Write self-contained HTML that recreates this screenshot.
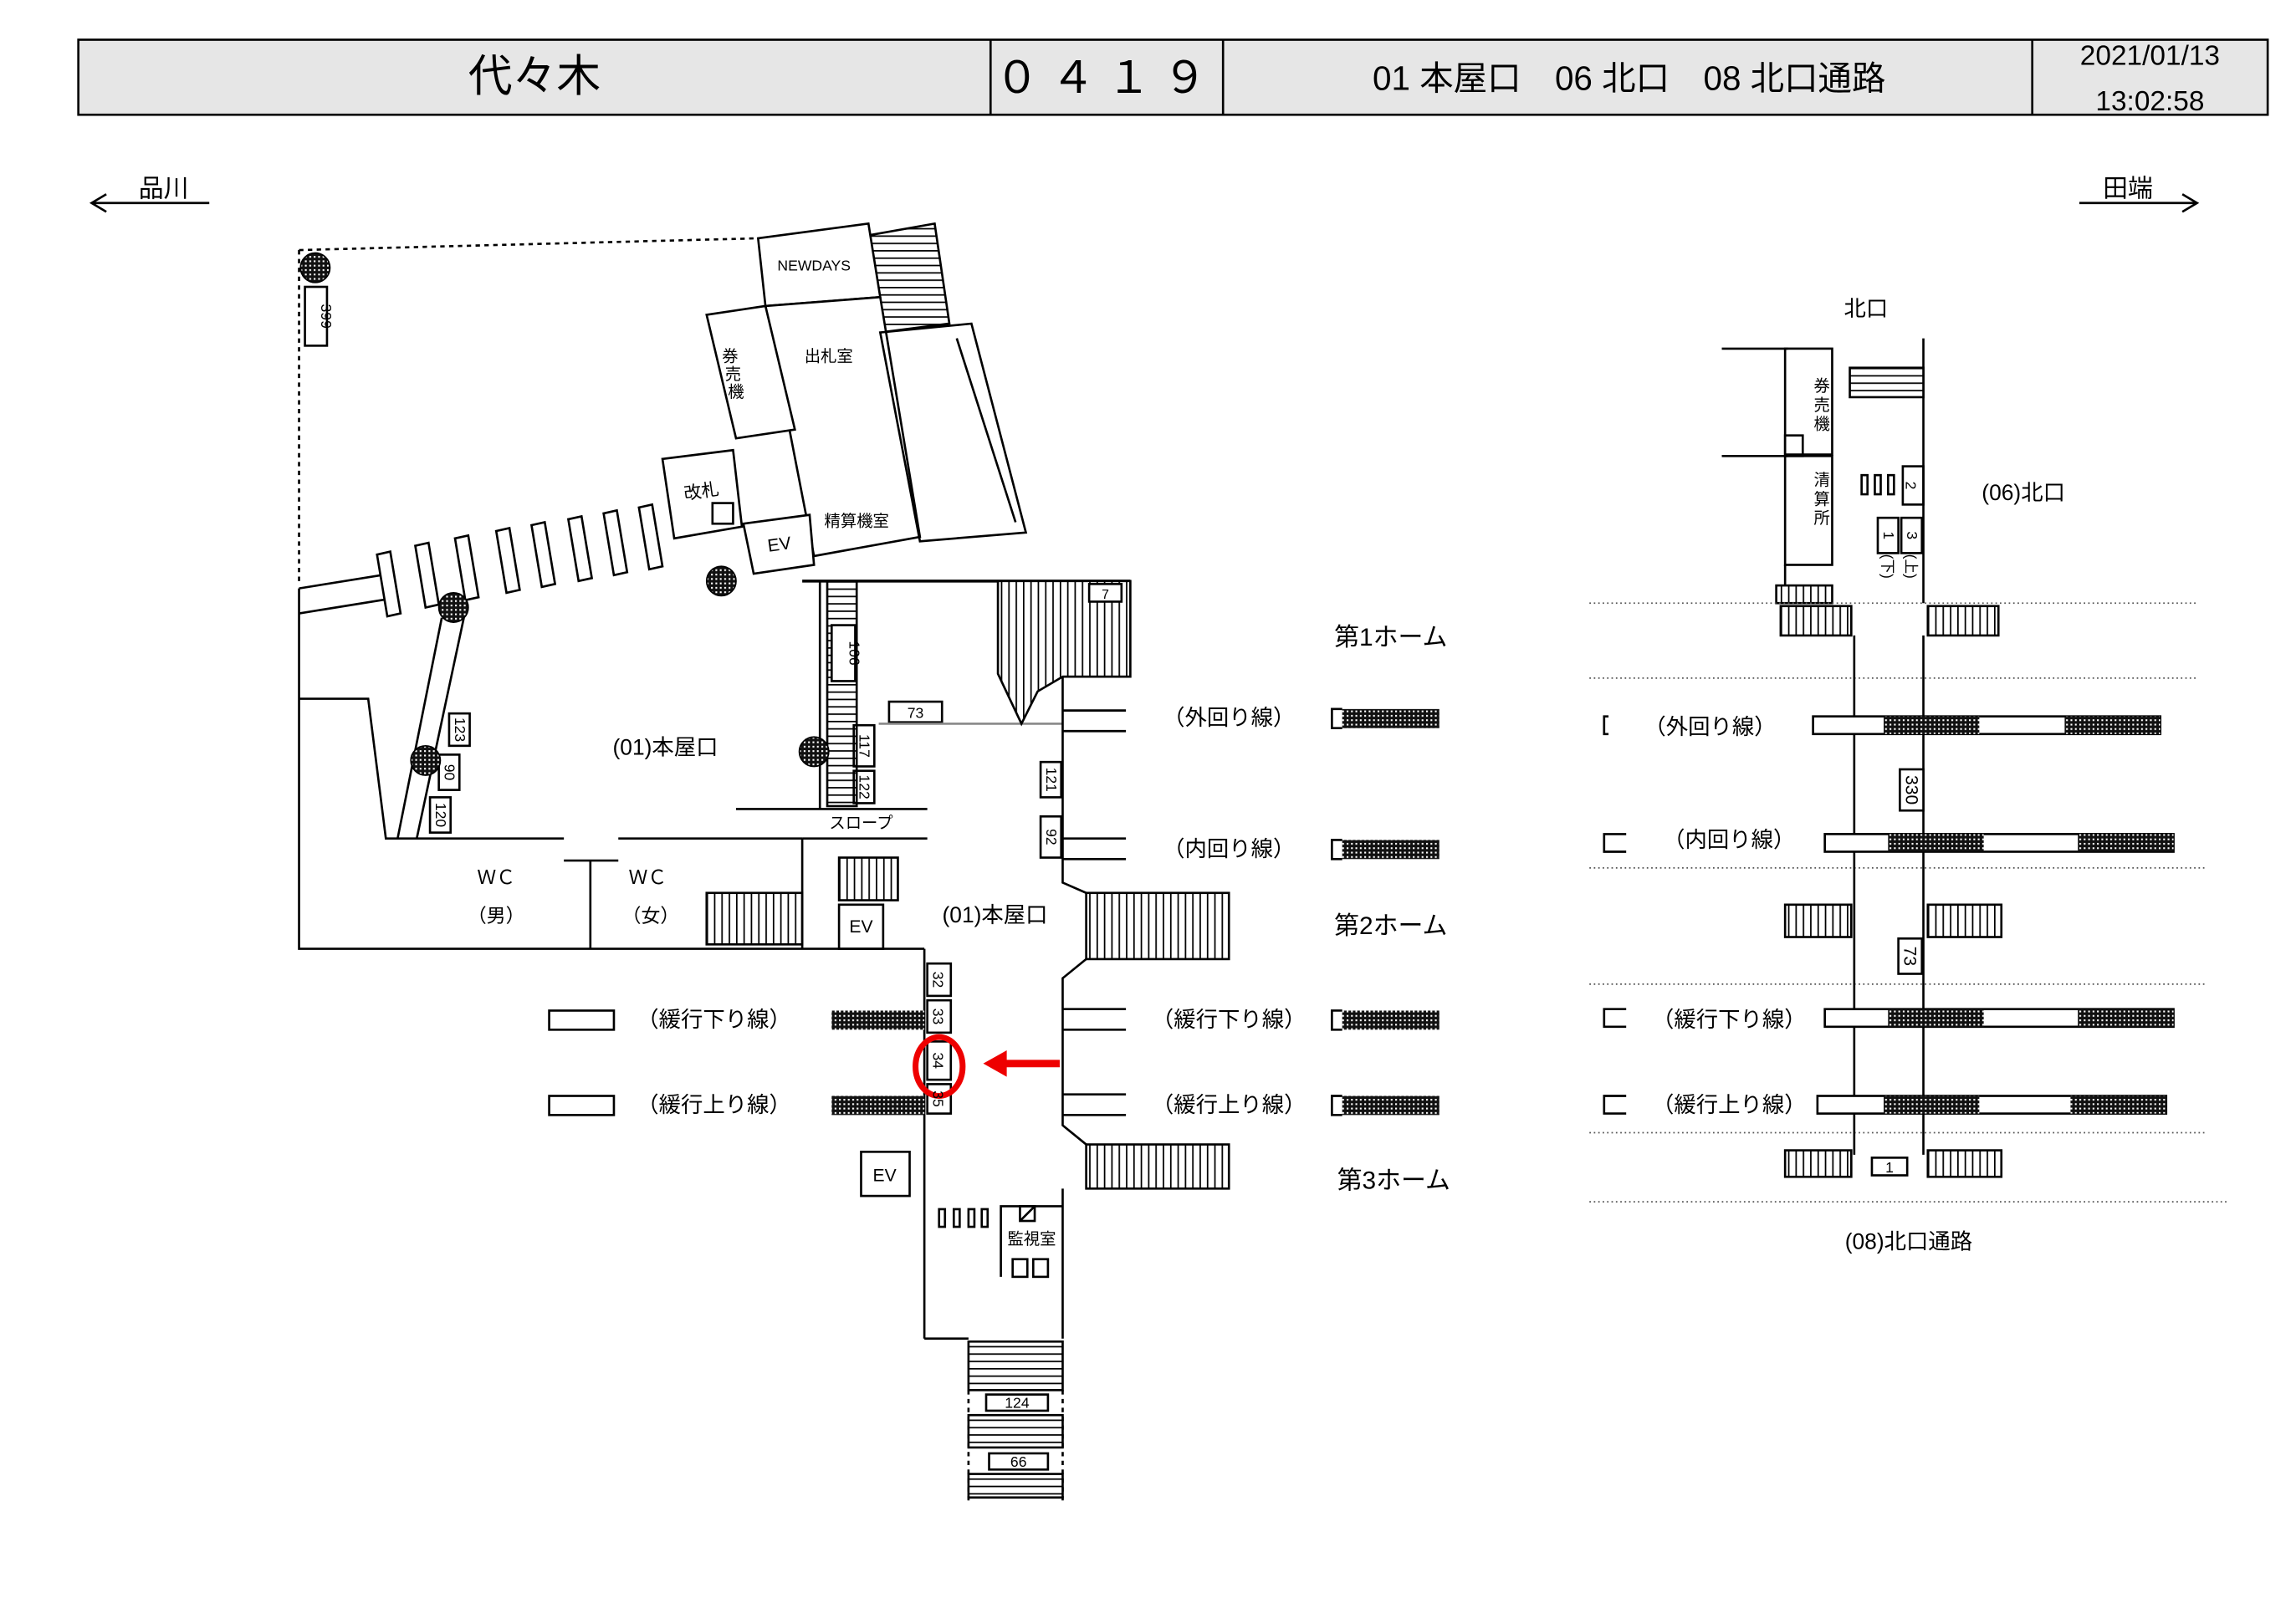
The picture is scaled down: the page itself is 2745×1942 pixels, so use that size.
<!DOCTYPE html>
<html><head><meta charset="utf-8"><style>
html,body{margin:0;padding:0;background:#fff}
svg{display:block}
text{font-family:"Liberation Sans","Noto Sans CJK JP",sans-serif;fill:#000}
</style></head><body>
<svg width="2745" height="1942" viewBox="0 0 1560 1104" xmlns="http://www.w3.org/2000/svg">
<defs>
<pattern id="h" width="3" height="3" patternUnits="userSpaceOnUse"><rect width="3" height="3" fill="#111"/><rect width="1.2" height="1.2" fill="#fff"/></pattern>
<pattern id="sv" width="5" height="5" patternUnits="userSpaceOnUse"><rect width="5" height="5" fill="#fff"/><rect width="1" height="5" fill="#000"/></pattern>
<pattern id="sh" width="5" height="5" patternUnits="userSpaceOnUse"><rect width="5" height="5" fill="#fff"/><rect width="5" height="1" fill="#000"/></pattern>
</defs>
<g fill="none" stroke="#000" stroke-width="1.5">
<!-- header -->
<rect x="53" y="27" width="1488" height="51" fill="#e6e6e6"/>
<line x1="673" y1="27" x2="673" y2="78"/><line x1="831" y1="27" x2="831" y2="78"/><line x1="1381" y1="27" x2="1381" y2="78"/>
<!-- direction arrows -->
<line x1="62" y1="138" x2="142" y2="138"/><polyline points="72,132 62,138 72,144"/>
<line x1="1413" y1="138" x2="1493" y2="138"/><polyline points="1483,132 1493,138 1483,144"/>
<!-- left plan -->
<line x1="203" y1="170" x2="515" y2="162" stroke-dasharray="3,3"/>
<line x1="203" y1="170" x2="203" y2="395" stroke-dasharray="3,3"/>
<polygon points="590,160 635,152 645,220 598,226" fill="url(#sh)"/>
<polygon points="515,162 590,152 598,202 520,208" fill="#fff"/>
<polygon points="520,208 598,202 625,365 553,378" fill="#fff"/>
<polygon points="598,226 660,220 697,362 625,368"/>
<line x1="650" y1="230" x2="690" y2="355"/>
<polygon points="480,214 520,208 540,292 500,298" fill="#fff"/>
<polygon points="450,312 498,306 504,358 458,366" fill="#fff"/>
<polygon points="505,356 550,350 553,384 512,390" fill="#fff"/>
<rect x="484" y="342" width="14" height="14"/>
<line x1="203" y1="400" x2="265" y2="390"/><line x1="203" y1="417" x2="265" y2="407"/>
<g fill="#fff">
<polygon points="256,377 265,375 272,417 263,419"/>
<polygon points="282,371 291,369 298,411 289,413"/>
<polygon points="309,366 318,364 325,406 316,408"/>
<polygon points="337,361 346,359 353,401 344,403"/>
<polygon points="361,357 370,355 377,397 368,399"/>
<polygon points="386,353 395,351 402,393 393,395"/>
<polygon points="410,349 419,347 426,389 417,391"/>
<polygon points="434,345 443,343 450,385 441,387"/>
</g>
<polyline points="203,475 250,475 262,570 383,570"/>
<line x1="420" y1="570" x2="545" y2="570"/>
<line x1="300" y1="420" x2="270" y2="570"/><line x1="315" y1="420" x2="283" y2="570"/>
<rect x="207" y="195" width="15" height="40"/>
<rect x="305" y="485" width="14" height="22"/><rect x="298" y="513" width="14" height="24"/><rect x="292" y="542" width="14" height="24"/>
<polyline points="203,400 203,645 628,645"/>
<line x1="401" y1="585" x2="401" y2="645"/><line x1="383" y1="585" x2="420" y2="585"/>
<rect x="480" y="607" width="65" height="35" fill="url(#sv)"/>
<rect x="570" y="583" width="40" height="29" fill="url(#sv)"/>
<rect x="570" y="615" width="30" height="30"/>
<line x1="545" y1="570" x2="545" y2="645"/>
<line x1="557" y1="395" x2="557" y2="550"/>
<rect x="562" y="395" width="20" height="153" fill="url(#sh)"/>
<rect x="565" y="425" width="16" height="38" fill="#fff"/>
<line x1="545" y1="395" x2="768" y2="395" stroke-width="2"/>
<rect x="604" y="477" width="36" height="14"/>
<line x1="597" y1="492" x2="722" y2="492" stroke="#888"/>
<rect x="580" y="493" width="14" height="28"/><rect x="580" y="524" width="14" height="22"/>
<line x1="500" y1="550" x2="630" y2="550"/><line x1="545" y1="570" x2="630" y2="570"/>
<polygon points="678,395 768,395 768,460 722,460 705,470 694,492 678,458" fill="url(#sv)"/>
<rect x="740" y="397" width="22" height="12" fill="#fff"/>
<line x1="722" y1="460" x2="768" y2="460"/>
<polyline points="722,460 722,600 738,607"/>
<rect x="738" y="607" width="97" height="45" fill="url(#sv)"/>
<polyline points="738,652 722,665 722,765 738,778"/>
<rect x="738" y="778" width="97" height="30" fill="url(#sv)"/>
<rect x="707" y="518" width="14" height="24"/><rect x="707" y="555" width="14" height="28"/>
<g>
<line x1="722" y1="483" x2="765" y2="483"/><line x1="722" y1="497" x2="765" y2="497"/>
<line x1="722" y1="570" x2="765" y2="570"/><line x1="722" y1="584" x2="765" y2="584"/>
<line x1="722" y1="686" x2="765" y2="686"/><line x1="722" y1="700" x2="765" y2="700"/>
<line x1="722" y1="744" x2="765" y2="744"/><line x1="722" y1="758" x2="765" y2="758"/>
<polyline points="912,482 905,482 905,495 912,495"/><rect x="912" y="482" width="66" height="13" fill="url(#h)" stroke="none"/>
<polyline points="912,571 905,571 905,584 912,584"/><rect x="912" y="571" width="66" height="13" fill="url(#h)" stroke="none"/>
<polyline points="912,687 905,687 905,700 912,700"/><rect x="912" y="687" width="66" height="13" fill="url(#h)" stroke="none"/>
<polyline points="912,745 905,745 905,758 912,758"/><rect x="912" y="745" width="66" height="13" fill="url(#h)" stroke="none"/>
</g>
<line x1="628" y1="645" x2="628" y2="910"/>
<rect x="630" y="655" width="16" height="22"/><rect x="630" y="680" width="16" height="22"/><rect x="630" y="708" width="16" height="26"/><rect x="630" y="737" width="16" height="20"/>
<rect x="373" y="687" width="44" height="13"/><rect x="565" y="687" width="63" height="13" fill="url(#h)" stroke="none"/>
<rect x="373" y="745" width="44" height="13"/><rect x="565" y="745" width="63" height="13" fill="url(#h)" stroke="none"/>
<rect x="585" y="783" width="33" height="30"/>
<rect x="638" y="822" width="4" height="12"/><rect x="648" y="822" width="4" height="12"/><rect x="658" y="822" width="4" height="12"/><rect x="667" y="822" width="4" height="12"/>
<polyline points="680,868 680,820 722,820"/>
<rect x="693" y="820" width="10" height="10"/><line x1="693" y1="830" x2="703" y2="820"/>
<rect x="688" y="856" width="10" height="12"/><rect x="702" y="856" width="10" height="12"/>
<line x1="722" y1="808" x2="722" y2="910"/>
<line x1="628" y1="910" x2="658" y2="910"/>
<rect x="658" y="912" width="64" height="33" fill="url(#sh)"/>
<line x1="658" y1="945" x2="658" y2="1020" stroke-dasharray="3,3"/><line x1="722" y1="945" x2="722" y2="1020" stroke-dasharray="3,3"/>
<rect x="670" y="948" width="42" height="11"/><rect x="658" y="962" width="64" height="22" fill="url(#sh)"/>
<rect x="672" y="988" width="40" height="11"/><rect x="658" y="1002" width="64" height="16" fill="url(#sh)"/>
<ellipse cx="638" cy="725" rx="16" ry="20" stroke="#e00" stroke-width="4"/>
<line x1="682" y1="723" x2="720" y2="723" stroke="#e00" stroke-width="5"/>
<!-- right diagram -->
<line x1="1170" y1="237" x2="1215" y2="237"/><line x1="1170" y1="310" x2="1215" y2="310"/>
<rect x="1213" y="237" width="32" height="72"/><rect x="1213" y="296" width="12" height="14"/>
<rect x="1213" y="310" width="32" height="74"/>
<line x1="1213" y1="384" x2="1213" y2="400"/>
<line x1="1307" y1="230" x2="1307" y2="410"/>
<rect x="1257" y="250" width="50" height="20" fill="url(#sh)"/>
<rect x="1265" y="323" width="4" height="13"/><rect x="1274" y="323" width="4" height="13"/><rect x="1283" y="323" width="4" height="13"/>
<rect x="1293" y="317" width="14" height="26"/><rect x="1276" y="352" width="14" height="24"/><rect x="1292" y="352" width="14" height="24"/>
<rect x="1207" y="398" width="38" height="12" fill="url(#sv)"/>
<rect x="1210" y="412" width="48" height="20" fill="url(#sv)"/><rect x="1310" y="412" width="48" height="20" fill="url(#sv)"/>
<g stroke-dasharray="1,2" stroke="#555" stroke-width="1">
<line x1="1080" y1="410" x2="1493" y2="410"/><line x1="1080" y1="461" x2="1493" y2="461"/>
<line x1="1080" y1="590" x2="1500" y2="590"/><line x1="1080" y1="669" x2="1500" y2="669"/>
<line x1="1080" y1="770" x2="1500" y2="770"/><line x1="1080" y1="817" x2="1513" y2="817"/>
</g>
<line x1="1260" y1="432" x2="1260" y2="785"/><line x1="1307" y1="432" x2="1307" y2="785"/>
<rect x="1232" y="487" width="236" height="12" fill="#fff"/><rect x="1280" y="487" width="65" height="12" fill="url(#h)" stroke="none"/><rect x="1403" y="487" width="65" height="12" fill="url(#h)" stroke="none"/>
<rect x="1240" y="567" width="237" height="12" fill="#fff"/><rect x="1283" y="567" width="65" height="12" fill="url(#h)" stroke="none"/><rect x="1412" y="567" width="65" height="12" fill="url(#h)" stroke="none"/>
<rect x="1240" y="686" width="237" height="12" fill="#fff"/><rect x="1283" y="686" width="65" height="12" fill="url(#h)" stroke="none"/><rect x="1412" y="686" width="65" height="12" fill="url(#h)" stroke="none"/>
<rect x="1235" y="745" width="237" height="12" fill="#fff"/><rect x="1280" y="745" width="65" height="12" fill="url(#h)" stroke="none"/><rect x="1407" y="745" width="65" height="12" fill="url(#h)" stroke="none"/>
<polyline points="1093,487 1090,487 1090,499 1093,499"/>
<polyline points="1105,567 1090,567 1090,579 1105,579"/>
<polyline points="1105,686 1090,686 1090,698 1105,698"/>
<polyline points="1105,745 1090,745 1090,757 1105,757"/>
<rect x="1291" y="523" width="16" height="28" fill="#fff"/>
<rect x="1290" y="638" width="16" height="24" fill="#fff"/>
<rect x="1213" y="615" width="45" height="22" fill="url(#sv)"/><rect x="1310" y="615" width="50" height="22" fill="url(#sv)"/>
<rect x="1213" y="782" width="45" height="18" fill="url(#sv)"/><rect x="1310" y="782" width="50" height="18" fill="url(#sv)"/>
<rect x="1272" y="787" width="24" height="12" fill="#fff"/>
</g>
<g fill="url(#h)" stroke="#000">
<circle cx="214" cy="182" r="10"/><circle cx="308" cy="413" r="10"/><circle cx="490" cy="395" r="10"/><circle cx="289" cy="517" r="10"/><circle cx="553" cy="511" r="10"/>
</g>
<polygon points="668,723 684,714 684,732" fill="#e00"/>
<!-- texts -->
<text x="363" y="62" font-size="30" text-anchor="middle">代々木</text>
<text x="752" y="63" font-size="30" text-anchor="middle" letter-spacing="8">０４１９</text>
<text x="1107" y="61" font-size="23" text-anchor="middle" xml:space="preserve">01 本屋口　06 北口　08 北口通路</text>
<text x="1461" y="44" font-size="19" text-anchor="middle">2021/01/13</text>
<text x="1461" y="75" font-size="19" text-anchor="middle">13:02:58</text>
<text x="111" y="134" font-size="17" text-anchor="middle">品川</text>
<text x="1446" y="134" font-size="17" text-anchor="middle">田端</text>
<g font-size="10" text-anchor="middle">
<text x="553" y="184">NEWDAYS</text>
<text x="563" y="246" font-size="11">出札室</text>
<text x="582" y="358" font-size="11">精算機室</text>
<text x="477" y="338" font-size="12" transform="rotate(-8 477 338)">改札</text>
<text x="530" y="374" font-size="12" transform="rotate(-8 530 374)">EV</text>
<text x="496" y="246" font-size="11">券</text><text x="498" y="258" font-size="11">売</text><text x="500" y="270" font-size="11">機</text>
<text x="0" y="0" transform="translate(218 215) rotate(90)">399</text>
<text x="0" y="0" transform="translate(577 444) rotate(90)">106</text>
<text x="622" y="488">73</text>
<text x="751" y="407" font-size="9">7</text>
<text x="0" y="0" transform="translate(584 507) rotate(90)">117</text>
<text x="0" y="0" transform="translate(584 535) rotate(90)">122</text>
<text x="0" y="0" transform="translate(309 496) rotate(90)">123</text>
<text x="0" y="0" transform="translate(302 525) rotate(90)">90</text>
<text x="0" y="0" transform="translate(296 554) rotate(90)">120</text>
<text x="0" y="0" transform="translate(711 530) rotate(90)">121</text>
<text x="0" y="0" transform="translate(711 569) rotate(90)">92</text>
<text x="0" y="0" transform="translate(634 666) rotate(90)">32</text>
<text x="0" y="0" transform="translate(634 691) rotate(90)">33</text>
<text x="0" y="0" transform="translate(634 721) rotate(90)">34</text>
<text x="0" y="0" transform="translate(634 747) rotate(90)">35</text>
<text x="585" y="563" font-size="11">スロープ</text>
<text x="585" y="634" font-size="12">EV</text>
<text x="601" y="803" font-size="12">EV</text>
<text x="701" y="846" font-size="11">監視室</text>
<text x="691" y="957">124</text>
<text x="692" y="997">66</text>
<text x="0" y="0" transform="translate(1295 330) rotate(90)">2</text>
<text x="0" y="0" transform="translate(1280 364) rotate(90)">1</text>
<text x="0" y="0" transform="translate(1296 364) rotate(90)">3</text>
<text x="0" y="0" transform="translate(1279 385) rotate(90)">(下)</text>
<text x="0" y="0" transform="translate(1295 385) rotate(90)">(上)</text>
<text x="0" y="0" transform="translate(1295 537) rotate(90)" font-size="12">330</text>
<text x="0" y="0" transform="translate(1294 650) rotate(90)" font-size="12">73</text>
<text x="1284" y="797">1</text>
<text x="1238" y="266" font-size="11">券</text><text x="1238" y="279" font-size="11">売</text><text x="1238" y="292" font-size="11">機</text>
<text x="1238" y="330" font-size="11">清</text><text x="1238" y="343" font-size="11">算</text><text x="1238" y="356" font-size="11">所</text>
</g>
<g font-size="15" text-anchor="middle">
<text x="452" y="513">(01)本屋口</text>
<text x="676" y="627">(01)本屋口</text>
<text x="337" y="601" font-size="13">ＷＣ</text><text x="337" y="627" font-size="13">（男）</text>
<text x="440" y="601" font-size="13">ＷＣ</text><text x="442" y="627" font-size="13">（女）</text>
<text x="835" y="493">（外回り線）</text>
<text x="835" y="582">（内回り線）</text>
<text x="835" y="698">（緩行下り線）</text>
<text x="835" y="756">（緩行上り線）</text>
<text x="485" y="698">（緩行下り線）</text>
<text x="485" y="756">（緩行上り線）</text>
<text x="945" y="439" font-size="17">第1ホーム</text>
<text x="945" y="635" font-size="17">第2ホーム</text>
<text x="947" y="808" font-size="17">第3ホーム</text>
<text x="1268" y="215">北口</text>
<text x="1375" y="340">(06)北口</text>
<text x="1162" y="499">（外回り線）</text>
<text x="1175" y="576">（内回り線）</text>
<text x="1175" y="698">（緩行下り線）</text>
<text x="1175" y="756">（緩行上り線）</text>
<text x="1297" y="849">(08)北口通路</text>
</g>
</svg>
</body></html>
